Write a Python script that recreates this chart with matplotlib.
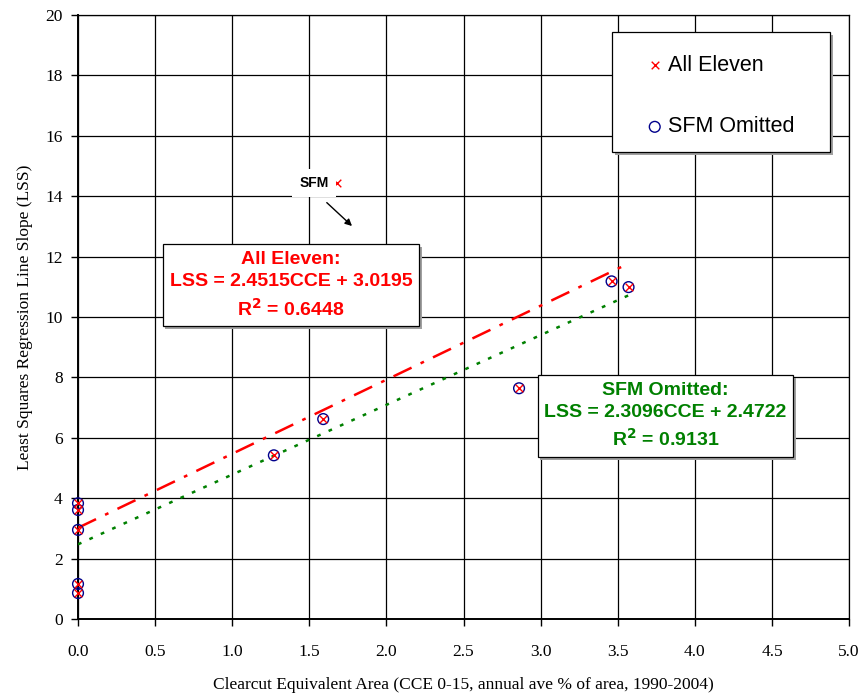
import matplotlib.pyplot as plt
import matplotlib.patheffects as pe
from matplotlib.patches import Rectangle
import numpy as np

# clearcut equivalent area (CCE) and least squares slope (LSS) per watershed
cce = [0.0, 0.0, 0.0, 0.0, 0.0, 1.27, 1.59, 2.86, 3.46, 3.57, 1.68]
lss = [3.83, 3.61, 2.95, 1.16, 0.86, 5.42, 6.62, 7.64, 11.18, 10.99, 14.44]
is_sfm = [False] * 10 + [True]

# regression coefficients (slope, intercept, r2)
fit_all = (2.4515, 3.0195, 0.6448)
fit_omit = (2.3096, 2.4722, 0.9131)

cce_omit = [c for c, s in zip(cce, is_sfm) if not s]
lss_omit = [v for v, s in zip(lss, is_sfm) if not s]

fig = plt.figure(figsize=(8.62, 6.98), dpi=100)
ax = fig.add_axes([0.0905, 0.1132, 0.8945, 0.8653])

serif = "Liberation Serif"
sans = "Liberation Sans"
shadow = [pe.SimplePatchShadow(offset=(2, -2), shadow_rgbFace="#a0a0a0",
                               alpha=1.0), pe.Normal()]

xx = np.array([0.0, max(cce)])
ax.plot(xx, fit_all[0] * xx + fit_all[1], color="red", lw=1.8,
        linestyle=(0, (8, 4, 1.5, 4)), zorder=3)
ax.plot(xx, fit_omit[0] * xx + fit_omit[1], color="green", lw=1.8,
        linestyle=(0, (1.5, 3.5)), zorder=3)

ax.scatter(cce, lss, marker="x", color="red", s=30, linewidths=1.0,
           zorder=5, clip_on=False, label="All Eleven")
ax.scatter(cce_omit, lss_omit, marker="o", facecolors="none",
           edgecolors="#00008b", s=60, linewidths=1.0, zorder=4,
           clip_on=False, label="SFM Omitted")

ax.set_xlim(0, 5)
ax.set_ylim(0, 20)
ax.set_xticks(np.arange(0, 5.01, 0.5))
ax.set_yticks(np.arange(0, 20.1, 2))
ax.set_xticklabels([f"{v:.1f}" for v in np.arange(0, 5.01, 0.5)])
ax.grid(True, color="black", lw=0.9)
ax.set_axisbelow(True)
for sp in ax.spines.values():
    sp.set_color("black")
    sp.set_linewidth(0.9)
ax.spines["left"].set_linewidth(1.4)
ax.spines["bottom"].set_linewidth(1.4)
ax.tick_params(direction="out", length=5, width=1, labelsize=12.5)
ax.tick_params(axis="x", pad=13)
ax.tick_params(axis="y", pad=6)
for lbl in ax.get_xticklabels() + ax.get_yticklabels():
    lbl.set_fontfamily(serif)

ax.set_xlabel("Clearcut Equivalent Area (CCE 0-15, annual ave % of area, 1990-2004)",
              fontfamily=serif, fontsize=12.5, labelpad=12)
ax.set_ylabel("Least Squares Regression Line Slope (LSS)",
              fontfamily=serif, fontsize=12.5, labelpad=9)

# legend frame drawn separately so it can be wider than the entries
frame = Rectangle((0.6926, 0.7732), 0.2828, 0.1987, transform=ax.transAxes,
                  facecolor="white", edgecolor="black", lw=0.9, zorder=6)
frame.set_path_effects(shadow)
ax.add_patch(frame)
leg = ax.legend(loc="upper left", bbox_to_anchor=(0.7354, 0.9345),
                prop={"family": sans, "size": 15.5}, frameon=False,
                borderpad=0, labelspacing=1.9, handletextpad=0.17,
                handlelength=0.9, borderaxespad=0)
leg.set_zorder(7)

# equation boxes with a light drop shadow
def eq_box(x, y, text, color):
    t = ax.text(x, y, text, ha="center", va="center", color=color,
                fontfamily=sans, fontsize=14, fontweight="bold",
                linespacing=1.4, zorder=6,
                bbox=dict(boxstyle="square,pad=0.35", facecolor="white",
                          edgecolor="black", lw=0.9))
    t.get_bbox_patch().set_path_effects(shadow)
    return t

eq_box(1.38, 11.05,
       f"All Eleven:\nLSS = {fit_all[0]:.4f}CCE + {fit_all[1]:.4f}\n"
       f"R$^\\mathbf{{2}}$ = {fit_all[2]:.4f}", "red")
eq_box(3.81, 6.72,
       f"SFM Omitted:\nLSS = {fit_omit[0]:.4f}CCE + {fit_omit[1]:.4f}\n"
       f"R$^\\mathbf{{2}}$ = {fit_omit[2]:.4f}", "green")

ax.annotate("", xy=(1.79, 12.95), xytext=(1.6, 13.85),
            arrowprops=dict(arrowstyle="-|>", color="black", lw=1.0,
                            mutation_scale=10), zorder=6)
ax.text(1.53, 14.45, "SFM", ha="center", va="center", fontfamily=sans,
        fontsize=10, fontweight="bold",
        bbox=dict(boxstyle="square,pad=0.5", facecolor="white",
                  edgecolor="none"), zorder=6)

fig.savefig("out.png", dpi=100)
